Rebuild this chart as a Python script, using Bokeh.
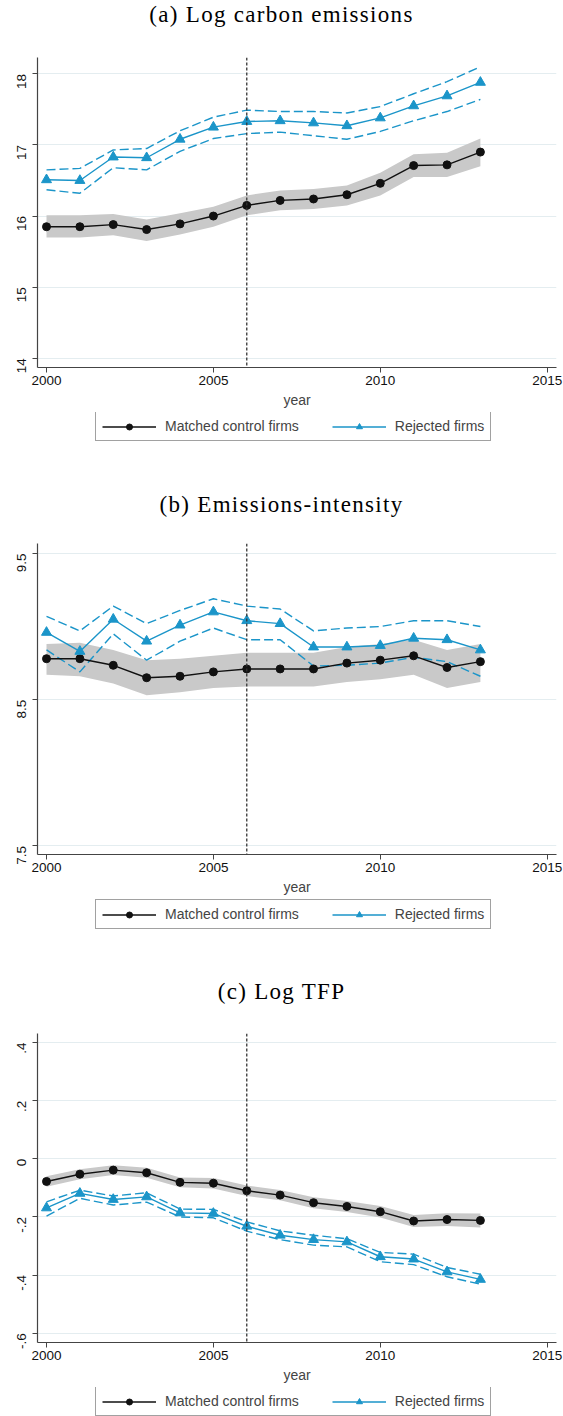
import math
from bokeh.plotting import figure
from bokeh.models import Range1d, FixedTicker, Span, Legend, LegendItem, Div
from bokeh.layouts import column
from bokeh.embed import file_html
from bokeh.resources import INLINE

# ---------------- data ----------------
years = [2000, 2001, 2002, 2003, 2004, 2005, 2006, 2007, 2008, 2009, 2010, 2011, 2012, 2013]
treatment_year = 2006
x_ticks = [2000, 2005, 2010, 2015]
series_names = ["Matched control firms", "Rejected firms"]

# (a) Log carbon emissions
a_title = "(a) Log carbon emissions"
a_matched = [15.85, 15.85, 15.88, 15.81, 15.89, 16.00, 16.15, 16.22, 16.24, 16.30, 16.46, 16.71, 16.72, 16.90]
a_matched_hi = [16.01, 16.01, 16.03, 15.95, 16.04, 16.13, 16.29, 16.36, 16.38, 16.43, 16.61, 16.87, 16.89, 17.09]
a_matched_lo = [15.70, 15.70, 15.73, 15.65, 15.74, 15.85, 16.01, 16.08, 16.10, 16.15, 16.29, 16.55, 16.55, 16.70]
a_rejected = [16.51, 16.50, 16.83, 16.82, 17.08, 17.25, 17.33, 17.34, 17.31, 17.27, 17.38, 17.55, 17.69, 17.88]
a_rejected_hi = [16.65, 16.67, 16.93, 16.95, 17.20, 17.39, 17.49, 17.47, 17.47, 17.45, 17.54, 17.72, 17.89, 18.10]
a_rejected_lo = [16.37, 16.32, 16.68, 16.65, 16.91, 17.09, 17.16, 17.18, 17.13, 17.08, 17.19, 17.34, 17.47, 17.64]
a_yticks = [14, 15, 16, 17, 18]
a_ylabels = ["14", "15", "16", "17", "18"]

# (b) Emissions-intensity
b_title = "(b) Emissions-intensity"
b_matched = [8.78, 8.78, 8.735, 8.65, 8.66, 8.69, 8.71, 8.71, 8.71, 8.75, 8.77, 8.80, 8.72, 8.76]
b_matched_hi = [8.88, 8.89, 8.84, 8.77, 8.78, 8.80, 8.82, 8.82, 8.82, 8.86, 8.88, 8.91, 8.84, 8.88]
b_matched_lo = [8.67, 8.66, 8.61, 8.53, 8.55, 8.58, 8.59, 8.59, 8.59, 8.62, 8.64, 8.67, 8.58, 8.62]
b_rejected = [8.96, 8.83, 9.05, 8.90, 9.01, 9.10, 9.04, 9.02, 8.86, 8.86, 8.87, 8.92, 8.91, 8.84]
b_rejected_hi = [9.07, 8.97, 9.14, 9.02, 9.11, 9.19, 9.14, 9.12, 8.97, 8.99, 9.00, 9.04, 9.04, 9.00]
b_rejected_lo = [8.84, 8.69, 8.95, 8.77, 8.90, 8.99, 8.91, 8.91, 8.73, 8.735, 8.75, 8.79, 8.76, 8.66]
b_yticks = [7.5, 8.5, 9.5]
b_ylabels = ["7.5", "8.5", "9.5"]

# (c) Log TFP
c_title = "(c) Log TFP"
c_matched = [-0.078, -0.053, -0.039, -0.048, -0.081, -0.084, -0.110, -0.125, -0.151, -0.164, -0.182, -0.214, -0.209, -0.212]
c_matched_hi = [-0.060, -0.036, -0.022, -0.031, -0.064, -0.066, -0.092, -0.107, -0.132, -0.145, -0.162, -0.193, -0.187, -0.188]
c_matched_lo = [-0.096, -0.070, -0.056, -0.065, -0.098, -0.102, -0.128, -0.143, -0.170, -0.183, -0.202, -0.235, -0.231, -0.236]
c_rejected = [-0.169, -0.119, -0.140, -0.131, -0.186, -0.188, -0.232, -0.263, -0.278, -0.286, -0.337, -0.345, -0.389, -0.415]
c_rejected_hi = [-0.148, -0.108, -0.128, -0.117, -0.173, -0.174, -0.217, -0.248, -0.263, -0.275, -0.322, -0.328, -0.374, -0.397]
c_rejected_lo = [-0.197, -0.136, -0.159, -0.149, -0.200, -0.203, -0.249, -0.278, -0.297, -0.303, -0.354, -0.364, -0.406, -0.431]
c_yticks = [-0.6, -0.4, -0.2, 0, 0.2, 0.4]
c_ylabels = ["-.6", "-.4", "-.2", "0", ".2", ".4"]

# ---------------- style ----------------
BLUE = "#1b95c9"
BLACK = "#111111"
BAND = "#c9c9c9"
AXIS = "#444444"
GRID = "#e4edf0"
SANS = "Liberation Sans"
SERIF = "Liberation Serif"
X_RANGE = (1999.73, 2015.28)
W = 563


def make_title(text):
    return Div(text=text, width=W, height=30, margin=0,
               styles={"font-family": SERIF, "font-size": "23px", "letter-spacing": "1.3px",
                       "line-height": "30px", "text-align": "center", "color": "black",
                       "width": "563px"})


def style_line(p, kind, xs, ys):
    if kind == "matched":
        ln = p.line(xs, ys, line_color=BLACK, line_width=1.4)
        pts = p.scatter(xs, ys, marker="circle", size=8, fill_color=BLACK, line_color=BLACK)
    else:
        ln = p.line(xs, ys, line_color=BLUE, line_width=1.4)
        pts = p.scatter(xs, ys, marker="triangle", size=10, fill_color=BLUE, line_color=BLUE)
    return ln, pts


def make_panel(matched, m_hi, m_lo, rejected, r_hi, r_lo, yticks, ylabels,
               yrange, frame_h, top, bottom):
    p = figure(frame_width=519, frame_height=frame_h,
               x_range=Range1d(*X_RANGE), y_range=Range1d(*yrange),
               output_backend="svg", toolbar_location=None,
               min_border_left=37, min_border_right=7,
               min_border_top=top, min_border_bottom=bottom)
    p.outline_line_color = None
    p.background_fill_color = "white"
    p.border_fill_color = "white"

    for ax in (p.xaxis[0], p.yaxis[0]):
        ax.axis_line_color = AXIS
        ax.axis_line_width = 1.2
        ax.major_tick_line_color = AXIS
        ax.major_tick_in = 0
        ax.major_tick_out = 5
        ax.minor_tick_line_color = None
        ax.major_label_text_font = SANS
        ax.major_label_text_font_size = "13.5px"
        ax.major_label_text_color = "#111111"
    p.xaxis.ticker = FixedTicker(ticks=x_ticks)
    p.xaxis.major_label_standoff = 3
    p.xaxis.axis_label = "year"
    p.xaxis.axis_label_text_font = SANS
    p.xaxis.axis_label_text_font_size = "14px"
    p.xaxis.axis_label_text_font_style = "normal"
    p.xaxis.axis_label_standoff = 4
    p.yaxis.ticker = FixedTicker(ticks=yticks)
    p.yaxis.major_label_overrides = {t: l for t, l in zip(yticks, ylabels)}
    p.yaxis.major_label_orientation = math.pi / 2
    p.yaxis.major_label_standoff = 11

    p.xgrid.grid_line_color = None
    p.ygrid.grid_line_color = GRID
    p.ygrid.grid_line_width = 1
    p.ygrid.ticker = FixedTicker(ticks=yticks)

    p.varea(x=years, y1=m_lo, y2=m_hi, fill_color=BAND, fill_alpha=1)
    p.line(years, r_hi, line_color=BLUE, line_width=1.4, line_dash="9 4")
    p.line(years, r_lo, line_color=BLUE, line_width=1.4, line_dash="9 4")
    style_line(p, "matched", years, matched)
    style_line(p, "rejected", years, rejected)

    p.add_layout(Span(location=treatment_year, dimension="height", line_color="#333333",
                      line_width=1.3, line_dash="3 2"))
    return p


def make_legend(height, y, matched, rejected):
    # Legend strip: the series are drawn here too but fall outside its (0..1) view,
    # so only the legend box with its line+marker keys is visible.
    lf = figure(width=W, height=height, x_range=Range1d(0, 1), y_range=Range1d(0, 1),
                output_backend="svg", toolbar_location=None, min_border=0,
                x_axis_type=None, y_axis_type=None)
    lf.outline_line_color = None
    lf.grid.visible = False
    m_line, m_pts = style_line(lf, "matched", years, matched)
    r_line, r_pts = style_line(lf, "rejected", years, rejected)
    legend = Legend(items=[LegendItem(label=series_names[0], renderers=[m_line, m_pts]),
                           LegendItem(label=series_names[1], renderers=[r_line, r_pts])],
                    orientation="horizontal", location=(58, y),
                    glyph_width=54, glyph_height=15, label_height=15,
                    label_standoff=9, spacing=33, padding=6, margin=0,
                    label_text_font=SANS, label_text_font_size="14px",
                    border_line_color=AXIS, border_line_width=1.2,
                    background_fill_color="white", background_fill_alpha=1)
    lf.add_layout(legend)
    return lf


ta = make_title(a_title)
pa = make_panel(a_matched, a_matched_hi, a_matched_lo, a_rejected, a_rejected_hi,
                a_rejected_lo, a_yticks, a_ylabels, (13.87, 18.23), 310, 27, 45)
la = make_legend(78, 49, a_matched, a_rejected)
tb = make_title(b_title)
pb = make_panel(b_matched, b_matched_hi, b_matched_lo, b_rejected, b_rejected_hi,
                b_rejected_lo, b_yticks, b_ylabels, (7.441, 9.568), 311, 23, 45)
lb = make_legend(78, 48, b_matched, b_rejected)
tc = make_title(c_title)
pc = make_panel(c_matched, c_matched_hi, c_matched_lo, c_rejected, c_rejected_hi,
                c_rejected_lo, c_yticks, c_ylabels, (-0.632, 0.431), 309, 26, 45)
lc = make_legend(29, 0, c_matched, c_rejected)

layout = column(ta, pa, la, tb, pb, lb, tc, pc, lc, spacing=0)
open("out.html", "w").write(file_html(layout, INLINE))
